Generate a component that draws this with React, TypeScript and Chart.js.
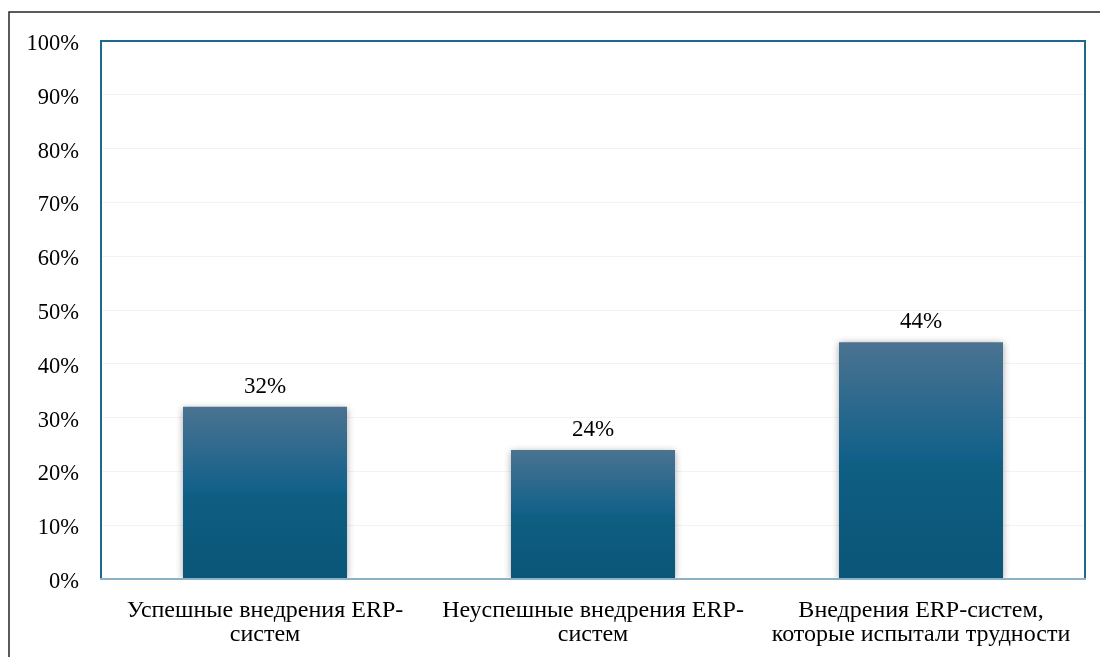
import React, { useEffect, useRef } from "react";
import { Chart, registerables } from "chart.js";

Chart.register(...registerables);

const categories: string[][] = [
  ["Успешные внедрения ERP-", "систем"],
  ["Неуспешные внедрения ERP-", "систем"],
  ["Внедрения ERP-систем,", "которые испытали трудности"],
];
const values: number[] = [32, 24, 44];
const yTicks: number[] = [0, 10, 20, 30, 40, 50, 60, 70, 80, 90, 100];

const FONT = "'Liberation Serif', 'Times New Roman', serif";

export default function App() {
  const ref = useRef<HTMLCanvasElement | null>(null);

  useEffect(() => {
    if (!ref.current) return;

    const framePlugin = {
      id: "frame",
      beforeDraw(chart: any) {
        const ctx = chart.ctx;
        ctx.save();
        ctx.fillStyle = "#ffffff";
        ctx.fillRect(0, 0, chart.width, chart.height);
        ctx.strokeStyle = "#262626";
        ctx.lineWidth = 1.5;
        ctx.beginPath();
        ctx.moveTo(9, chart.height);
        ctx.lineTo(9, 12);
        ctx.lineTo(chart.width, 12);
        ctx.stroke();
        ctx.restore();
      },
      afterDraw(chart: any) {
        const { left, right, top, bottom } = chart.chartArea;
        const ctx = chart.ctx;
        ctx.save();
        ctx.lineWidth = 2;
        ctx.strokeStyle = "#1f6a8c";
        ctx.beginPath();
        ctx.moveTo(left, bottom);
        ctx.lineTo(left, top);
        ctx.lineTo(right, top);
        ctx.lineTo(right, bottom);
        ctx.stroke();
        ctx.strokeStyle = "#8cb0c6";
        ctx.beginPath();
        ctx.moveTo(left - 1, bottom);
        ctx.lineTo(right + 1, bottom);
        ctx.stroke();
        ctx.restore();
      },
    };

    const shadowPlugin = {
      id: "barShadow",
      beforeDatasetsDraw(chart: any) {
        const ctx = chart.ctx;
        ctx.save();
        ctx.shadowColor = "rgba(0,0,0,0.35)";
        ctx.shadowBlur = 7;
        ctx.shadowOffsetX = 0;
        ctx.shadowOffsetY = 1;
      },
      afterDatasetsDraw(chart: any) {
        chart.ctx.restore();
      },
    };

    const labelPlugin = {
      id: "valueLabels",
      afterDatasetsDraw(chart: any) {
        const ctx = chart.ctx;
        const meta = chart.getDatasetMeta(0);
        ctx.save();
        ctx.fillStyle = "#000000";
        ctx.font = `23px ${FONT}`;
        ctx.textAlign = "center";
        ctx.textBaseline = "alphabetic";
        meta.data.forEach((bar: any, i: number) => {
          ctx.fillText(values[i] + "%", bar.x, bar.y - 14);
        });
        ctx.restore();
      },
    };

    const chart = new Chart(ref.current, {
      type: "bar",
      data: {
        labels: categories,
        datasets: [
          {
            data: values,
            backgroundColor: (c: any) => {
              const chart = c.chart;
              const y = chart.scales?.y;
              const v = c.raw as number;
              if (!y) return "#0f5f83";
              const top = y.getPixelForValue(v);
              const bottom = y.getPixelForValue(0);
              if (!isFinite(top) || !isFinite(bottom) || top === bottom) return "#0f5f83";
              const g = chart.ctx.createLinearGradient(0, top, 0, bottom);
              g.addColorStop(0, "#4b7391");
              g.addColorStop(0.5, "#10608a");
              g.addColorStop(0.5, "#0f5f83");
              g.addColorStop(1, "#0a5578");
              return g;
            },
            borderWidth: 0,
            barPercentage: 0.5,
            categoryPercentage: 1,
          },
        ],
      },
      options: {
        animation: false,
        responsive: true,
        maintainAspectRatio: false,
        layout: { padding: { top: 41, right: 15, left: 0, bottom: 0 } },
        plugins: {
          legend: { display: false },
          tooltip: { enabled: false },
        },
        scales: {
          x: {
            grid: { display: false, drawTicks: false },
            border: { display: false },
            ticks: {
              color: "#000000",
              font: { family: FONT, size: 24, lineHeight: 1.0 },
              padding: 20,
              autoSkip: false,
              maxRotation: 0,
              minRotation: 0,
            },
            afterFit: (s: any) => {
              s.height = 78;
            },
          },
          y: {
            min: 0,
            max: 100,
            afterBuildTicks: (s: any) => {
              s.ticks = yTicks.map((v) => ({ value: v }));
            },
            grid: { color: "#f3f3f3", drawTicks: false, lineWidth: 1 },
            border: { display: false },
            ticks: {
              color: "#000000",
              font: { family: FONT, size: 22.5 },
              padding: 22,
              labelOffset: 3,
              callback: (v: any) => v + "%",
            },
            afterFit: (s: any) => {
              s.width = 101;
            },
          },
        },
      },
      plugins: [framePlugin, shadowPlugin, labelPlugin],
    });

    return () => chart.destroy();
  }, []);

  return (
    <div style={{ position: "fixed", left: 0, top: 0, width: 1100, height: 657, background: "#fff" }}>
      <canvas ref={ref} />
    </div>
  );
}
